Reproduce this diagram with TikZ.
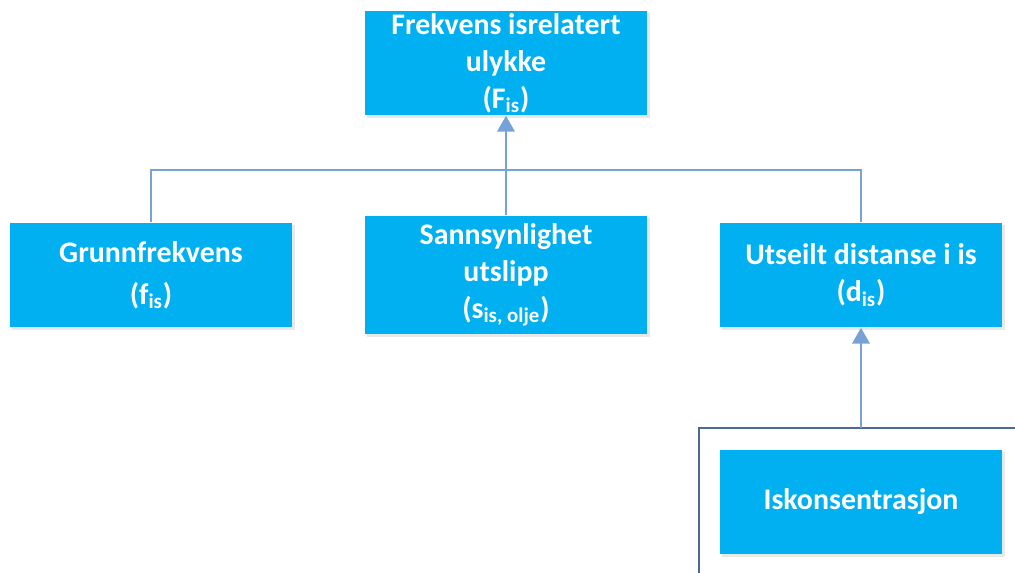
\documentclass[tikz,border=0pt]{standalone}
\usepackage{fontspec}
\setmainfont{Carlito}
\usetikzlibrary{positioning}
\usetikzlibrary{arrows.meta}
\usetikzlibrary{shadows}

\definecolor{boxcyan}{RGB}{0,176,240}
\definecolor{linkblue}{RGB}{118,162,215}
\definecolor{framegray}{RGB}{75,105,145}

\tikzset{
  factor/.style={rectangle, fill=boxcyan, text=white, align=center,
    font=\bfseries\fontsize{17}{21}\selectfont,
    minimum width=5.66cm, minimum height=2.1cm, inner sep=0pt,
    drop shadow={opacity=0.18, shadow xshift=1.2pt, shadow yshift=-1.2pt}},
  link/.style={line width=1.1pt, draw=linkblue},
  linkarrow/.style={link, -{Triangle[width=10pt,length=9pt]}},
}

\begin{document}
\begin{tikzpicture}[x=0.02cm, y=-0.02cm]
\useasboundingbox (0,0) rectangle (1015,573);

% The factors
\node[factor] (Fis) at (506,63) {Frekvens isrelatert\\ulykke\\(F\textsubscript{is})};
\node[factor] (fis) at (151,275) {Grunnfrekvens\\[3pt](f\textsubscript{is})};
\node[factor, minimum height=2.38cm] (sis) at (506,275)
  {Sannsynlighet\\utslipp\\(s\textsubscript{is, olje})};
\node[factor] (dis) at (861,275) {Utseilt distanse i is\\(d\textsubscript{is})};
\node[factor] (konsentr) at (861,502) {Iskonsentrasjon};

% Bus joining the second row
\coordinate (busL) at (151,170);
\coordinate (busR) at (861,170);
\draw[link] (fis.north) -- (busL) -- (busR) -- (dis.north);
\draw[linkarrow] (sis.north) -- (Fis.south);

% Frame round the lower level
\coordinate (frameL) at (699,428);
\coordinate (frameR) at (1015,428);
\coordinate (frameB) at (699,573);
\coordinate (frameTop) at (861,428);
\draw[line width=1.1pt, framegray] (frameB) -- (frameL) -- (frameR);
\draw[linkarrow] (frameTop) -- (dis.south);
\end{tikzpicture}
\end{document}
